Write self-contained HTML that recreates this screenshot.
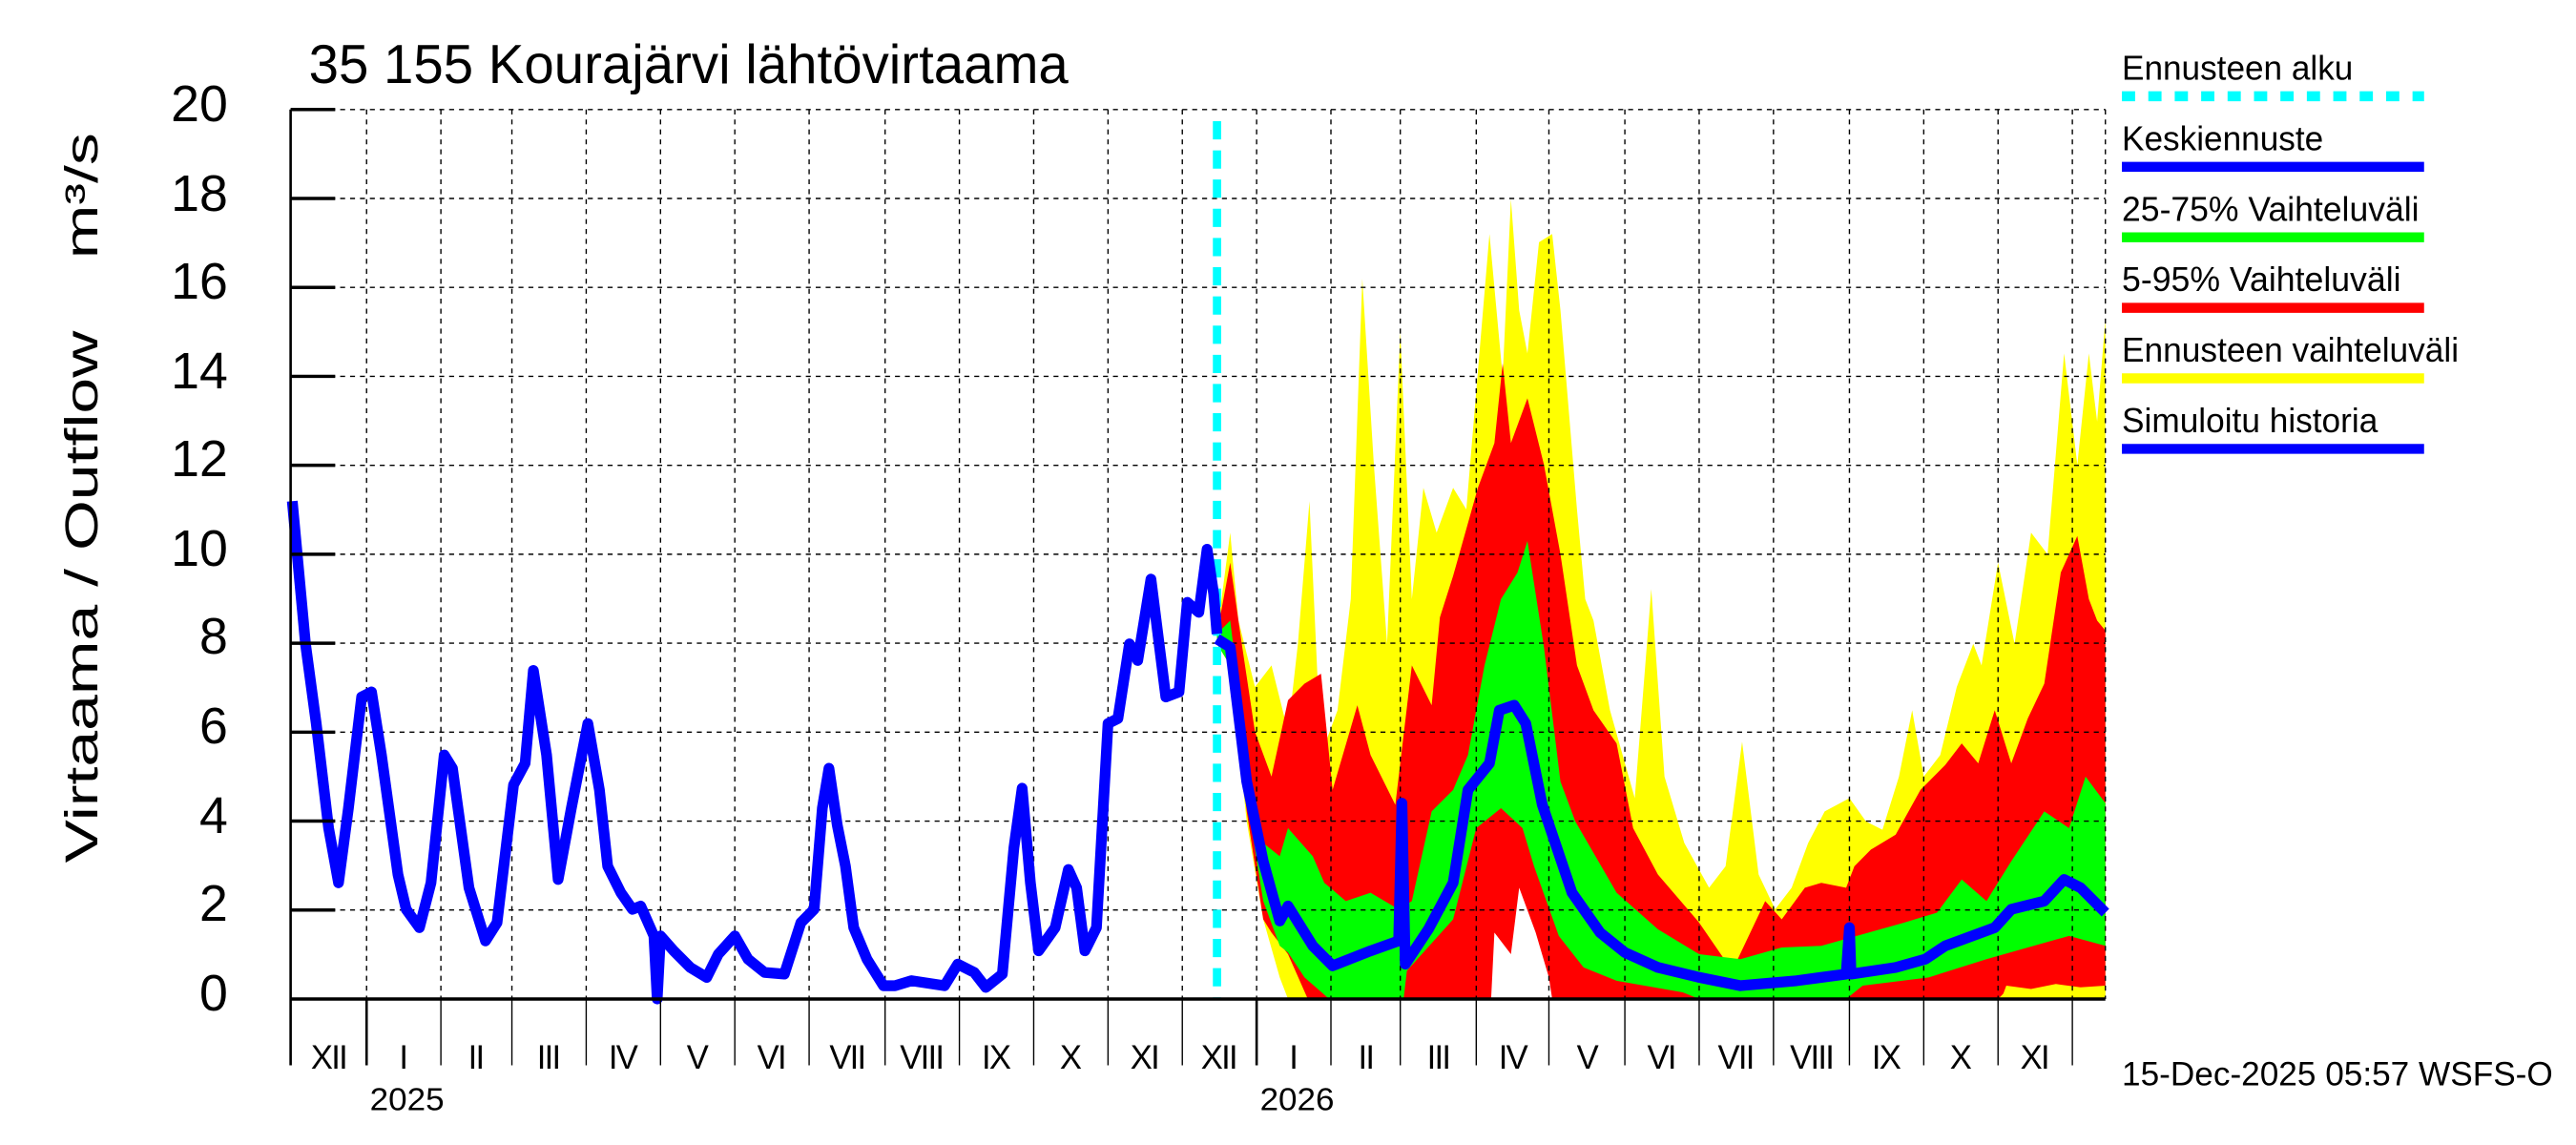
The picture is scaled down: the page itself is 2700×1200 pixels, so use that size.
<!DOCTYPE html>
<html><head><meta charset="utf-8"><style>html,body{margin:0;padding:0;background:#fff}svg{display:block}</style></head>
<body>
<svg width="2700" height="1200" viewBox="0 0 1560 690" preserveAspectRatio="none" xmlns="http://www.w3.org/2000/svg" font-family="Liberation Sans, sans-serif">
<rect width="1560" height="690" fill="#fff"/>
<polygon fill="#ffff00" points="737,382 745,321 750,374 760,414 770,401 780,441 786,388 793,302 800,455 810,428 818,361 825,168 832,280 840,388 848,200 855,361 862,294 870,321 880,294 888,307 897,200 902,141 910,227 915,120 920,187 925,213 932,146 940,141 945,187 955,307 960,361 965,374 975,428 990,481 1000,355 1008,468 1020,508 1035,535 1045,522 1055,447 1065,527 1075,548 1085,535 1095,508 1105,489 1120,481 1130,495 1140,500 1150,468 1158,428 1165,468 1175,455 1185,414 1195,388 1200,401 1210,339 1220,388 1230,321 1240,334 1250,213 1258,280 1265,213 1270,254 1275,192 1275,602 780,602 775,589 765,554 755,495 745,401 737,388"/>
<polygon fill="#ff0000" points="737,382 745,339 752,388 760,441 770,468 780,422 790,412 800,406 807,476 822,425 830,455 845,485 855,401 867,425 872,372 880,347 895,294 905,267 910,219 915,267 925,240 935,280 945,334 955,401 965,428 979,448 989,499 1004,527 1029,556 1049,585 1069,543 1079,554 1093,535 1103,532 1118,535 1123,522 1133,512 1148,503 1163,476 1178,461 1188,448 1198,460 1208,428 1218,460 1228,433 1238,412 1248,345 1258,323 1265,361 1270,374 1275,380 1275,597 1215,597 1210,602 792,602 780,575 770,562 765,554 755,489 745,401 737,388"/>
<polygon fill="#ffff00" points="1212,602 1215,594 1230,596 1245,593 1260,595 1275,594 1275,602"/>
<polygon fill="#ffffff" points="903,602 905,562 915,575 920,535 930,562 938,589 940,602"/>
<polygon fill="#00ff00" points="737,382 745,374 755,455 765,508 775,516 780,499 795,516 802,532 815,543 830,538 847,548 855,543 867,489 880,476 889,455 899,401 909,361 919,345 925,326 935,390 945,471 954,495 979,538 1004,560 1029,575 1054,578 1079,571 1103,570 1128,563 1153,556 1173,550 1188,530 1203,543 1218,519 1238,489 1253,499 1263,468 1275,484 1275,570 1253,564 1228,571 1203,578 1168,589 1128,594 1118,602 1029,602 1019,598 979,591 959,583 944,564 929,522 922,499 909,487 894,499 880,554 852,585 850,602 805,602 790,589 780,574 775,570 765,543 755,481 745,401 737,388"/>
<g stroke="#000" stroke-width="0.8" stroke-dasharray="3,3" fill="none">
<path d="M176,66H1275M176,119.6H1275M176,173.2H1275M176,226.8H1275M176,280.4H1275M176,334H1275M176,387.6H1275M176,441.2H1275M176,494.8H1275M176,548.4H1275"/>
<path d="M222,66V602M267,66V602M310,66V602M355,66V602M400,66V602M445,66V602M490,66V602M536,66V602M581,66V602M626,66V602M671,66V602M716,66V602M761,66V602M806,66V602M848,66V602M894,66V602M938,66V602M984,66V602M1029,66V602M1074,66V602M1120,66V602M1165,66V602M1210,66V602M1255,66V602M1275,66V602"/>
</g>
<line x1="737" y1="73" x2="737" y2="602" stroke="#00ffff" stroke-width="5" stroke-dasharray="11,6.6"/>
<polyline fill="none" stroke="#0000ff" stroke-width="6.5" stroke-linejoin="round" points="177,302 185,388 191.5,436 199,499 205,532 211,487 219,420 225,417 231,455 241,527 246,548 254,559 261,532 269,455 274,463 284,535 294,567 301,556 311,473 318,460 323,404 331,455 338,530 346,487 356,436 363,476 368,522 376,538 383,548 388,546 396,564 398,602 400,564 408,573 418,583 428,589 435,575 445,564 453,578 463,586 475,587 485,556 493,548 498,487 502,463 507,497 512,522 517,559 525,578 535,594 542,594 552,591 572,594 580,581 590,586 597,595 607,587 614,511 619,475 624,532 629,573 639,559 647,524 652,535 657,573 664,559 671,436 677,433 684,388 689,398 697,349 706,420 714,417 719,363 726,369 731,331 735,358 737,382"/>
<polyline fill="none" stroke="#0000ff" stroke-width="6.5" stroke-linejoin="round" points="737,385 745,390 755,471 765,519 775,555 780,546 795,570 807,582 830,573 847,567 849,484 851,581 865,560 880,532 889,476 902,460 908,428 917,425 924,436 934,485 952,538 969,562 984,574 1004,583 1029,589 1054,594 1088,591 1118,587 1120,559 1121,587 1148,583 1166,578 1178,570 1208,559 1218,548 1238,543 1250,530 1260,535 1273,548 1275,550"/>
<g stroke="#000">
<line x1="176" y1="66" x2="176" y2="642" stroke-width="1.5"/>
<line x1="176" y1="602" x2="1275" y2="602" stroke-width="2"/>
<path d="M176,66H203M176,119.6H203M176,173.2H203M176,226.8H203M176,280.4H203M176,334H203M176,387.6H203M176,441.2H203M176,494.8H203M176,548.4H203" stroke-width="2"/>
<path d="M267,602V642M310,602V642M355,602V642M400,602V642M445,602V642M490,602V642M536,602V642M581,602V642M626,602V642M671,602V642M716,602V642M806,602V642M848,602V642M894,602V642M938,602V642M984,602V642M1029,602V642M1074,602V642M1120,602V642M1165,602V642M1210,602V642M1255,602V642" stroke-width="0.8"/>
<path d="M222,602V642M761,602V642" stroke-width="1.5"/>
</g>
<g font-size="31" text-anchor="end" fill="#000">
<text x="138" y="609">0</text><text x="138" y="555">2</text><text x="138" y="502">4</text><text x="138" y="448">6</text><text x="138" y="394">8</text><text x="138" y="341">10</text><text x="138" y="287">12</text><text x="138" y="234">14</text><text x="138" y="180">16</text><text x="138" y="127">18</text><text x="138" y="73">20</text>
</g>
<text transform="translate(59,520) rotate(-90)" font-size="28" textLength="440" lengthAdjust="spacingAndGlyphs" xml:space="preserve">Virtaama / Outflow    m³/s</text>
<text x="187" y="50" font-size="33" textLength="460" lengthAdjust="spacingAndGlyphs">35 155 Kourajärvi lähtövirtaama</text>
<g font-size="20" text-anchor="middle" letter-spacing="-1">
<text x="199" y="644">XII</text><text x="244" y="644">I</text><text x="288" y="644">II</text><text x="332" y="644">III</text><text x="377" y="644">IV</text><text x="422" y="644">V</text><text x="467" y="644">VI</text><text x="513" y="644">VII</text><text x="558" y="644">VIII</text><text x="603" y="644">IX</text><text x="648" y="644">X</text><text x="693" y="644">XI</text><text x="738" y="644">XII</text><text x="783" y="644">I</text><text x="827" y="644">II</text><text x="871" y="644">III</text><text x="916" y="644">IV</text><text x="961" y="644">V</text><text x="1006" y="644">VI</text><text x="1051" y="644">VII</text><text x="1097" y="644">VIII</text><text x="1142" y="644">IX</text><text x="1187" y="644">X</text><text x="1232" y="644">XI</text>
</g>
<text x="224" y="669" font-size="19" textLength="45" lengthAdjust="spacingAndGlyphs">2025</text>
<text x="763" y="669" font-size="19" textLength="45" lengthAdjust="spacingAndGlyphs">2026</text>
<g font-size="21">
<text x="1285" y="48" textLength="140" lengthAdjust="spacingAndGlyphs">Ennusteen alku</text>
<text x="1285" y="90.5" textLength="122" lengthAdjust="spacingAndGlyphs">Keskiennuste</text>
<text x="1285" y="133" textLength="180" lengthAdjust="spacingAndGlyphs">25-75% Vaihteluväli</text>
<text x="1285" y="175.5" textLength="169" lengthAdjust="spacingAndGlyphs">5-95% Vaihteluväli</text>
<text x="1285" y="218" textLength="204" lengthAdjust="spacingAndGlyphs">Ennusteen vaihteluväli</text>
<text x="1285" y="260.5" textLength="155" lengthAdjust="spacingAndGlyphs">Simuloitu historia</text>
</g>
<line x1="1285" y1="58" x2="1468" y2="58" stroke="#00ffff" stroke-width="6" stroke-dasharray="8,8"/>
<line x1="1285" y1="100.5" x2="1468" y2="100.5" stroke="#0000ff" stroke-width="6"/>
<line x1="1285" y1="143" x2="1468" y2="143" stroke="#00ff00" stroke-width="6"/>
<line x1="1285" y1="185.5" x2="1468" y2="185.5" stroke="#ff0000" stroke-width="6"/>
<line x1="1285" y1="228" x2="1468" y2="228" stroke="#ffff00" stroke-width="6"/>
<line x1="1285" y1="270.5" x2="1468" y2="270.5" stroke="#0000ff" stroke-width="6"/>
<text x="1285" y="654" font-size="20" textLength="261" lengthAdjust="spacingAndGlyphs">15-Dec-2025 05:57 WSFS-O</text>
</svg>
</body></html>
